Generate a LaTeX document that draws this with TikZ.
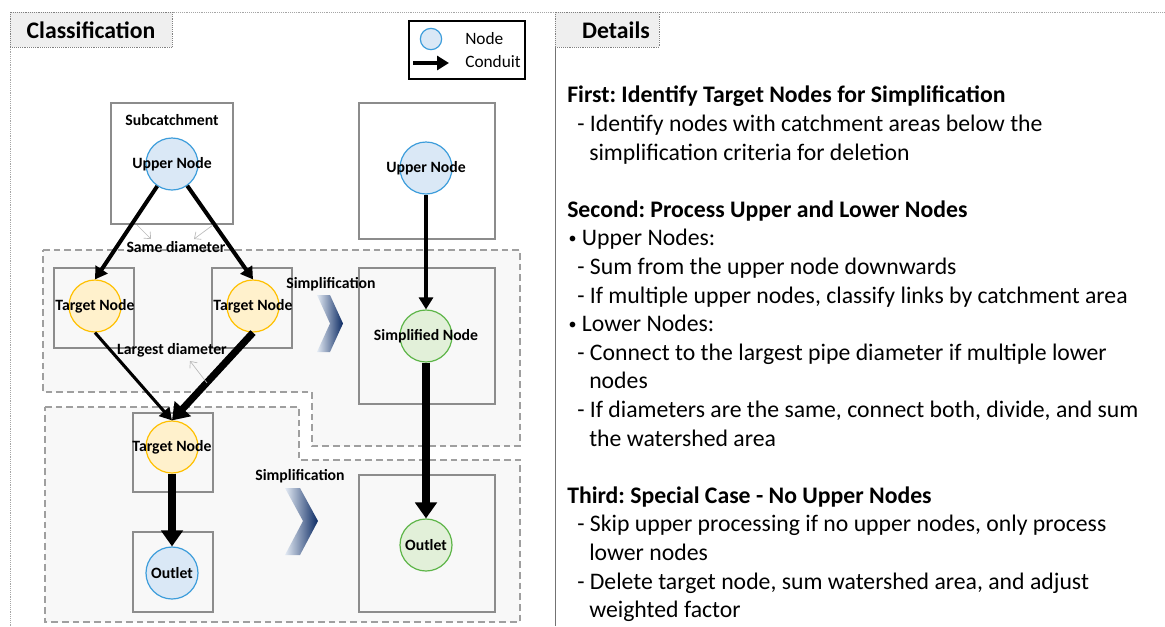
\documentclass[tikz,border=0pt]{standalone}
\usepackage{fontspec}
\setmainfont{Carlito}
\usetikzlibrary{arrows.meta}

\definecolor{bluefill}{HTML}{DAE8F6}
\definecolor{blueedge}{HTML}{3D9DDB}
\definecolor{yelfill}{HTML}{FFF1CC}
\definecolor{yeledge}{HTML}{FFC000}
\definecolor{grnfill}{HTML}{E2F0D9}
\definecolor{grnedge}{HTML}{5DB548}
\definecolor{boxgray}{HTML}{8C8C8C}
\definecolor{zonegray}{HTML}{F8F8F8}
\definecolor{tabgray}{HTML}{EFEFEF}
\definecolor{navy}{HTML}{0B2A63}
\definecolor{paleblue}{HTML}{E4EBF4}

\newcommand{\smallbul}{\hspace*{1pt}\raisebox{1.5pt}{\fontsize{12}{12}\selectfont\textbullet}\ }

\begin{document}
\frenchspacing
\begin{tikzpicture}[x=0.75pt,y=-0.75pt,
	box/.style={draw=boxgray, line width=1.1pt},
	zone/.style={draw=gray!75, dash pattern=on 5pt off 3pt, line width=0.9pt, fill=zonegray},
	tab/.style={draw=gray, densely dotted, line width=0.4pt, fill=tabgray},
	lbl/.style={font=\fontsize{11.8}{13}\selectfont\bfseries},
	pnode/.style={circle, minimum size=39pt, inner sep=0pt, line width=0.9pt, label={[lbl]center:#1}},
	upnode/.style={pnode=#1, draw=blueedge, fill=bluefill},
	tgnode/.style={pnode=#1, draw=yeledge, fill=yelfill},
	smnode/.style={pnode=#1, draw=grnedge, fill=grnfill},
	pipe/.style={-{Triangle[length=9pt,width=10.5pt]}, line width=3pt},
	thinpipe/.style={-{Triangle[length=9pt,width=10pt]}, line width=2.3pt},
	bigpipe/.style={-{Triangle[length=12pt,width=16pt]}, line width=5.3pt},
	hint/.style={-{Straight Barb[length=4pt,width=7pt]}, draw=gray!55, line width=0.5pt},
	chevron/.style={left color=paleblue, right color=navy, draw=none}]

\useasboundingbox (0,0) rectangle (1165,626);

	%frames
	\draw [gray!70, densely dotted, line width=0.4pt] (10,626)--(10,12)--(1165,12);%outer frame
	\draw [gray!90!black, line width=0.7pt] (555,12)--(555,626);%divider
	\draw [tab] (10,12) rectangle (172,47);%tab left
	\node [font=\fontsize{17.8}{20}\selectfont\bfseries] (tabcls) at (91,30) {Classification};
	\draw [tab] (555,12) rectangle (659,47);%tab right
	\node [font=\fontsize{17.8}{20}\selectfont\bfseries] (tabdet) at (616,30) {Details};

	%legend
	\draw [black, line width=1.1pt] (409,21) rectangle (525,79);
	\node [circle, minimum size=16pt, inner sep=0pt, draw=blueedge, fill=bluefill, line width=0.9pt] (legnode) at (431,39) {};
	\node [font=\fontsize{13}{15}\selectfont, anchor=west, inner sep=0pt] (legnodetxt) at (465,39) {Node};
	\coordinate (legfrom) at (413,63);
	\coordinate (legto) at (449,63);
	\draw [pipe] (legfrom)--(legto);
	\node [font=\fontsize{13}{15}\selectfont, anchor=west, inner sep=0pt] (legpipetxt) at (465,62) {Conduit};

	%dashed zones
	\draw [zone] (43,250)--(520,250)--(520,446)--(312,446)--(312,392)--(43,392)--cycle;
	\draw [zone] (45,407)--(299,407)--(299,460)--(520,460)--(520,622)--(45,622)--cycle;

	%boxes
	\draw [box] (111,103) rectangle (233,224);%subcatchment
	\draw [box] (359,103) rectangle (495,239);
	\draw [box] (54,268) rectangle (134,348);
	\draw [box] (212,268) rectangle (292,348);
	\draw [box] (359,268) rectangle (495,404);
	\draw [box] (133,413) rectangle (213,492);
	\draw [box] (133,532) rectangle (213,612);
	\draw [box] (359,475) rectangle (495,612);

	%nodes
	\node [lbl] (subc) at (172,120) {Subcatchment};
	\node [upnode=Upper Node] (up) at (172,164) {};
	\node [tgnode=Target Node] (tgl) at (95,306) {};
	\node [tgnode=Target Node] (tgr) at (253,306) {};
	\node [tgnode=Target Node] (tgd) at (172,447) {};
	\node [upnode=Outlet] (outl) at (172,573) {};
	\node [upnode=Upper Node] (upr) at (426,168) {};
	\node [smnode=Simplified Node] (simp) at (426,336) {};
	\node [smnode=Outlet] (outr) at (426,545) {};

	%conduits
	\draw [pipe] (up)--(tgl.north);
	\draw [pipe] (up)--(tgr.north);
	\draw [thinpipe] (tgl.south)--(tgd.north);
	\draw [bigpipe] (tgr.south)--(tgd.north);
	\draw [bigpipe] (tgd)--(outl);
	\draw [pipe] (upr)--(simp);
	\draw [bigpipe] (simp)--(outr);

	%hints
	\node [lbl] (same) at (176,247) {Same diameter};
	\coordinate (sa1) at (137,225);
	\coordinate (sa2) at (151,239);
	\coordinate (sb1) at (213,225);
	\coordinate (sb2) at (194,239);
	\draw [hint] (sa1)--(sa2);
	\draw [hint] (sb1)--(sb2);
	\node [lbl] (large) at (172,350) {Largest diameter};
	\coordinate (la1) at (207,383);
	\coordinate (la2) at (190,361);
	\draw [hint] (la1)--(la2);

	%simplification
	\node [lbl] (simp1) at (331,284) {Simplification};
	\shade [chevron] (317,295)--(330,295)--(343,323.5)--(330,352)--(317,352)--(330,323.5)--cycle;
	\node [lbl] (simp2) at (300,476) {Simplification};
	\shade [chevron] (285,488)--(300,488)--(318,521)--(300,555)--(285,555)--(303,521)--cycle;

	%details
	\node [anchor=north west, inner sep=0pt, align=left, font=\fontsize{17.8}{21.45}\selectfont] (det) at (567,86) {%
	\textbf{First: Identify Target Nodes for Simplification}\\
	\hspace*{7.5pt}- Identify nodes with catchment areas below the\\
	\hspace*{16.5pt}simplification criteria for deletion\\[21.45pt]
	\textbf{Second: Process Upper and Lower Nodes}\\
	\smallbul Upper Nodes:\\
	\hspace*{7.5pt}- Sum from the upper node downwards\\
	\hspace*{7.5pt}- If multiple upper nodes, classify links by catchment area\\
	\smallbul Lower Nodes:\\
	\hspace*{7.5pt}- Connect to the largest pipe diameter if multiple lower\\
	\hspace*{16.5pt}nodes\\
	\hspace*{7.5pt}- If diameters are the same, connect both, divide, and sum\\
	\hspace*{16.5pt}the watershed area\\[21.45pt]
	\textbf{Third: Special Case - No Upper Nodes}\\
	\hspace*{7.5pt}- Skip upper processing if no upper nodes, only process\\
	\hspace*{16.5pt}lower nodes\\
	\hspace*{7.5pt}- Delete target node, sum watershed area, and adjust\\
	\hspace*{16.5pt}weighted factor};

\end{tikzpicture}
\end{document}
